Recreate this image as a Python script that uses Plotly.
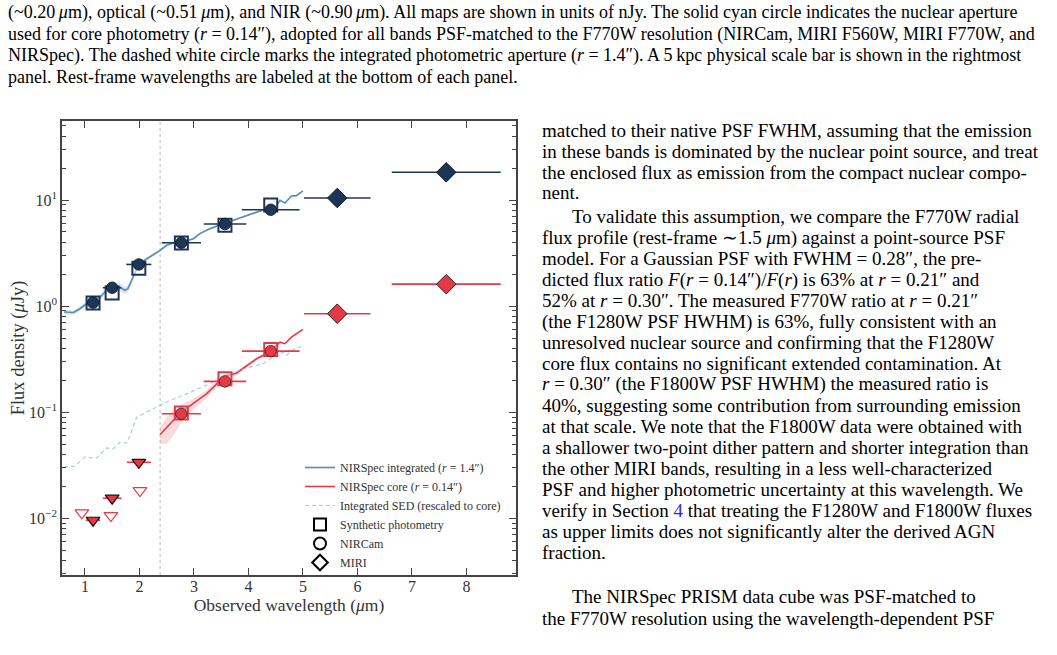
import plotly.graph_objects as go

# ---------------- data ----------------
# NIRSpec integrated spectrum (r = 1.4")
spec_int_wl = [0.62, 0.66, 0.79, 0.91, 1.03, 1.15, 1.28, 1.40, 1.52, 1.64, 1.73, 1.79, 1.89, 1.98, 2.07, 2.19,
               2.38, 2.50, 2.62, 2.77, 2.99, 3.11, 3.29, 3.54, 3.72, 3.97, 4.15, 4.33, 4.52, 4.58, 4.67, 4.79, 4.88, 5.00]
spec_int_f = [0.88, 0.877, 0.87, 0.944, 1.05, 1.09, 1.22, 1.41, 1.57, 1.51, 1.41, 1.46, 1.88, 2.42, 2.66, 2.90,
              3.35, 3.74, 3.93, 4.00, 4.32, 4.82, 5.37, 5.99, 6.43, 7.17, 7.70, 8.30, 8.91, 9.93, 9.37, 10.9, 11.0, 12.2]
spec_int_lo = [0.84, 0.83, 0.83, 0.90, 1.00, 1.04, 1.15, 1.32, 1.45, 1.38, 1.30, 1.36, 1.76, 2.30, 2.55, 2.80,
               3.25, 3.62, 3.82, 3.90, 4.20, 4.70, 5.24, 5.86, 6.30, 7.03, 7.55, 8.15, 8.75, 9.75, 9.20, 10.7, 10.8, 12.0]
spec_int_hi = [0.92, 0.92, 0.91, 0.99, 1.10, 1.14, 1.29, 1.50, 1.69, 1.64, 1.52, 1.56, 2.00, 2.54, 2.77, 3.00,
               3.45, 3.86, 4.04, 4.10, 4.44, 4.94, 5.50, 6.12, 6.56, 7.31, 7.85, 8.45, 9.07, 10.1, 9.55, 11.1, 11.2, 12.4]

# NIRSpec core spectrum (r = 0.14")
spec_core_wl = [2.38, 2.50, 2.62, 2.77, 2.99, 3.23, 3.42, 3.60, 3.78, 3.97, 4.15, 4.33, 4.45, 4.58, 4.67, 4.79, 5.00]
spec_core_f = [0.0616, 0.0722, 0.0835, 0.100, 0.120, 0.149, 0.185, 0.222, 0.233, 0.276, 0.319, 0.355, 0.405, 0.457, 0.442, 0.510, 0.603]
spec_core_lo = [0.050, 0.050, 0.060, 0.080, 0.106, 0.136, 0.172, 0.208, 0.222, 0.265, 0.308, 0.344, 0.395, 0.447, 0.432, 0.500, 0.592]
spec_core_hi = [0.072, 0.090, 0.104, 0.118, 0.134, 0.162, 0.199, 0.236, 0.245, 0.288, 0.330, 0.366, 0.415, 0.467, 0.452, 0.520, 0.614]

# Integrated SED rescaled to core
sed_wl = [0.62, 0.66, 0.81, 1.00, 1.21, 1.40, 1.52, 1.64, 1.76, 1.83, 1.95, 2.13, 2.38, 2.56, 2.80, 3.05, 3.29,
          3.54, 3.78, 4.03, 4.27, 4.45, 4.64, 4.70, 4.82, 4.97]
sed_f = [0.0305, 0.0307, 0.031, 0.0377, 0.0368, 0.0461, 0.045, 0.0521, 0.051, 0.0603, 0.0897, 0.100, 0.117, 0.129,
         0.144, 0.163, 0.185, 0.214, 0.242, 0.266, 0.286, 0.330, 0.368, 0.345, 0.388, 0.417]

# Photometry: integrated aperture
nircam_wl = [1.15, 1.50, 1.99, 2.77, 3.57, 4.41]
nircam_bw = [0.12, 0.17, 0.23, 0.36, 0.39, 0.53]
nircam_int = [1.08, 1.49, 2.47, 3.96, 5.94, 8.10]
synth_int = [1.07, 1.33, 2.27, 3.93, 5.77, 8.97]
miri_wl = [5.63, 7.63]
miri_bw = [0.61, 1.00]
miri_int = [10.45, 18.25]

# Photometry: core aperture
nircam_core_wl = [2.77, 3.57, 4.41]
nircam_core_bw = [0.36, 0.39, 0.53]
nircam_core = [0.0966, 0.195, 0.376]
synth_core = [0.098, 0.207, 0.390]
miri_core = [0.848, 1.61]

# Upper limits (core, short wavelengths)
ul_wl = [1.15, 1.50, 1.99]
ul_bw = [0.13, 0.17, 0.22]
ul_core = [0.00958, 0.01545, 0.0337]
ul_open_wl = [0.945, 1.477, 2.01]
ul_open = [0.01125, 0.0106, 0.01824]

split_wl = 2.38

# Text around the figure
caption_lines = [
    "(~0.20\u2009<i>μ</i>m), optical (~0.51\u2009<i>μ</i>m), and NIR (~0.90\u2009<i>μ</i>m). All maps are shown in units of nJy. The solid cyan circle indicates the nuclear aperture",
    "used for core photometry (<i>r</i> = 0.14″), adopted for all bands PSF-matched to the F770W resolution (NIRCam, MIRI F560W, MIRI F770W, and",
    "NIRSpec). The dashed white circle marks the integrated photometric aperture (<i>r</i> = 1.4″). A 5\u2009kpc physical scale bar is shown in the rightmost",
    "panel. Rest-frame wavelengths are labeled at the bottom of each panel.",
]
caption_y = [12.7, 34.2, 55.6, 77.0]

body_lines = [
    (0, "matched to their native PSF FWHM, assuming that the emission"),
    (0, "in these bands is dominated by the nuclear point source, and treat"),
    (0, "the enclosed flux as emission from the compact nuclear compo-"),
    (0, "nent."),
    (1, "To validate this assumption, we compare the F770W radial"),
    (0, "flux profile (rest-frame ∼1.5 <i>μ</i>m) against a point-source PSF"),
    (0, "model. For a Gaussian PSF with FWHM = 0.28″, the pre-"),
    (0, "dicted flux ratio <i>F</i>(<i>r</i> = 0.14″)/<i>F</i>(<i>r</i>) is 63% at <i>r</i> = 0.21″ and"),
    (0, "52% at <i>r</i> = 0.30″. The measured F770W ratio at <i>r</i> = 0.21″"),
    (0, "(the F1280W PSF HWHM) is 63%, fully consistent with an"),
    (0, "unresolved nuclear source and confirming that the F1280W"),
    (0, "core flux contains no significant extended contamination. At"),
    (0, "<i>r</i> = 0.30″ (the F1800W PSF HWHM) the measured ratio is"),
    (0, "40%, suggesting some contribution from surrounding emission"),
    (0, "at that scale. We note that the F1800W data were obtained with"),
    (0, "a shallower two-point dither pattern and shorter integration than"),
    (0, "the other MIRI bands, resulting in a less well-characterized"),
    (0, "PSF and higher photometric uncertainty at this wavelength. We"),
    (0, "verify in Section <span style='color:#2a2ae0'>4</span> that treating the F1280W and F1800W fluxes"),
    (0, "as upper limits does not significantly alter the derived AGN"),
    (0, "fraction."),
    (1, "The NIRSpec PRISM data cube was PSF-matched to"),
    (0, "the F770W resolution using the wavelength-dependent PSF"),
]
body_y = [130.0, 151.5, 172.0, 192.5, 216.7, 237.7, 258.5, 279.5, 300.7, 321.7, 342.5, 363.5, 384.5,
          405.7, 426.7, 447.7, 468.5, 489.5, 510.3, 531.5, 552.7, 596.7, 618.3]

# ---------------- style ----------------
NAVY = "#1d3557"
RED = "#e63946"
STEEL = "#5a8db5"
LIGHT = "rgba(168,200,226,0.95)"
SERIF = "Liberation Serif"

W, H = 1057, 655
fig = go.Figure()

# bands
fig.add_trace(go.Scatter(x=spec_int_wl + spec_int_wl[::-1], y=spec_int_hi + spec_int_lo[::-1],
                         fill="toself", fillcolor="rgba(90,141,181,0.22)", line=dict(width=0),
                         hoverinfo="skip", showlegend=False))
fig.add_trace(go.Scatter(x=spec_core_wl + spec_core_wl[::-1], y=spec_core_hi + spec_core_lo[::-1],
                         fill="toself", fillcolor="rgba(230,57,70,0.18)", line=dict(width=0),
                         hoverinfo="skip", showlegend=False))

# spectra
fig.add_trace(go.Scatter(x=spec_int_wl, y=spec_int_f, mode="lines", line=dict(color=STEEL, width=1.6),
                         name="NIRSpec integrated (<i>r</i> = 1.4″)", legendrank=1))
fig.add_trace(go.Scatter(x=spec_core_wl, y=spec_core_f, mode="lines", line=dict(color=RED, width=1.6),
                         name="NIRSpec core (<i>r</i> = 0.14″)", legendrank=2))
fig.add_trace(go.Scatter(x=sed_wl, y=sed_f, mode="lines", line=dict(color=LIGHT, width=1.2, dash="4px,3px"),
                         name="Integrated SED (rescaled to core)", legendrank=3))

# integrated photometry
fig.add_trace(go.Scatter(x=nircam_wl, y=synth_int, mode="markers", showlegend=False,
                         marker=dict(symbol="square", size=13, color="rgba(255,255,255,0.55)",
                                     line=dict(color=NAVY, width=2))))
fig.add_trace(go.Scatter(x=nircam_wl, y=nircam_int, mode="markers", showlegend=False,
                         error_x=dict(type="data", array=nircam_bw, color=NAVY, thickness=1.6, width=0),
                         marker=dict(symbol="circle", size=11.5, color=NAVY, line=dict(color="#0d1626", width=0.8))))
fig.add_trace(go.Scatter(x=miri_wl, y=miri_int, mode="markers", showlegend=False,
                         error_x=dict(type="data", array=miri_bw, color=NAVY, thickness=1.6, width=0),
                         marker=dict(symbol="diamond", size=15, color=NAVY, line=dict(color="#0d1626", width=1))))

# core photometry
fig.add_trace(go.Scatter(x=nircam_core_wl, y=synth_core, mode="markers", showlegend=False,
                         marker=dict(symbol="square", size=13, color="rgba(255,255,255,0.35)",
                                     line=dict(color=RED, width=2))))
fig.add_trace(go.Scatter(x=nircam_core_wl, y=nircam_core, mode="markers", showlegend=False,
                         error_x=dict(type="data", array=nircam_core_bw, color=RED, thickness=1.6, width=0),
                         marker=dict(symbol="circle", size=11.5, color=RED, line=dict(color="#222", width=0.8))))
fig.add_trace(go.Scatter(x=miri_wl, y=miri_core, mode="markers", showlegend=False,
                         error_x=dict(type="data", array=miri_bw, color=RED, thickness=1.6, width=0),
                         marker=dict(symbol="diamond", size=15, color=RED, line=dict(color="#222", width=1))))

# upper limits
fig.add_trace(go.Scatter(x=ul_wl, y=ul_core, mode="markers", showlegend=False,
                         error_x=dict(type="data", array=ul_bw, color=RED, thickness=1.6, width=0),
                         marker=dict(symbol="triangle-down", size=12, color=RED, line=dict(color="#111", width=1.2))))
fig.add_trace(go.Scatter(x=ul_open_wl, y=ul_open, mode="markers", showlegend=False,
                         marker=dict(symbol="triangle-down-open", size=12, color=RED, line=dict(width=1.2))))

# legend-only marker entries
for sym, nm, rk in [("square-open", "Synthetic photometry", 4), ("circle-open", "NIRCam", 5),
                    ("diamond-open", "MIRI", 6)]:
    fig.add_trace(go.Scatter(x=[None], y=[None], mode="markers", name=nm, legendrank=rk,
                             marker=dict(symbol=sym, size=12, color="black", line=dict(width=2))))

# vertical divider
fig.add_shape(type="line", x0=split_wl, x1=split_wl, y0=0, y1=1, xref="x", yref="y domain",
              line=dict(color="#bbbbbb", width=1, dash="dot"), layer="below")

major = [0.01, 0.1, 1, 10]
major_txt = ["10<sup>−2</sup>", "10<sup>−1</sup>", "10<sup>0</sup>", "10<sup>1</sup>"]
minor = [m * 10 ** e for e in range(-3, 2) for m in range(2, 10)]
minor = [v for v in minor if 0.0029 <= v <= 56]

AX = "#444444"
fig.update_layout(
    width=W, height=H, margin=dict(l=0, r=0, t=0, b=0),
    paper_bgcolor="white", plot_bgcolor="white",
    font=dict(family=SERIF, color="#333333"),
    xaxis=dict(domain=[62 / W, 516 / W], range=[0.58, 8.91], showgrid=False, zeroline=False,
               tickvals=[1, 2, 3, 4, 5, 6, 7, 8], ticks="inside", ticklen=7, tickwidth=1.2, tickcolor=AX,
               showline=True, linecolor=AX, linewidth=1.6, mirror="allticks", ticklabelstandoff=-4,
               tickfont=dict(size=16, family=SERIF, color="#333"),
               title=dict(text="Observed wavelength (<i>μ</i>m)", font=dict(size=17.5, family=SERIF, color="#333"),
                          standoff=0)),
    yaxis=dict(domain=[1 - 575 / H, 1 - 121 / H], type="log", range=[-2.535, 1.745], showgrid=False,
               zeroline=False, tickvals=major, ticktext=major_txt, ticks="inside", ticklen=7, tickwidth=1.2,
               tickcolor=AX, showline=True, linecolor=AX, linewidth=1.6, mirror="allticks",
               minor=dict(tickmode="array", tickvals=minor, ticks="inside", ticklen=4, tickwidth=1, tickcolor=AX),
               tickfont=dict(size=16, family=SERIF, color="#333"),
               title=dict(text="Flux density (<i>μ</i>Jy)", font=dict(size=18.5, family=SERIF, color="#333"),
                          standoff=0)),
    legend=dict(x=300 / W, y=1 - 453 / H, xanchor="left", yanchor="top", bgcolor="rgba(0,0,0,0)",
                font=dict(size=12, family=SERIF, color="#333"), tracegroupgap=0, itemwidth=30),
    showlegend=True,
)

ann = []
for t, yy in zip(caption_lines, caption_y):
    ann.append(dict(text=t, x=6 / W, y=1 - yy / H, xref="paper", yref="paper", xanchor="left", yanchor="middle",
                    showarrow=False, font=dict(family=SERIF, size=18, color="black")))
for (ind, t), yy in zip(body_lines, body_y):
    x0 = 570 if ind else 540
    ann.append(dict(text=t, x=x0 / W, y=1 - yy / H, xref="paper", yref="paper", xanchor="left", yanchor="middle",
                    showarrow=False, font=dict(family=SERIF, size=19, color="black")))
fig.update_layout(annotations=ann)

fig.write_html("out.html")
